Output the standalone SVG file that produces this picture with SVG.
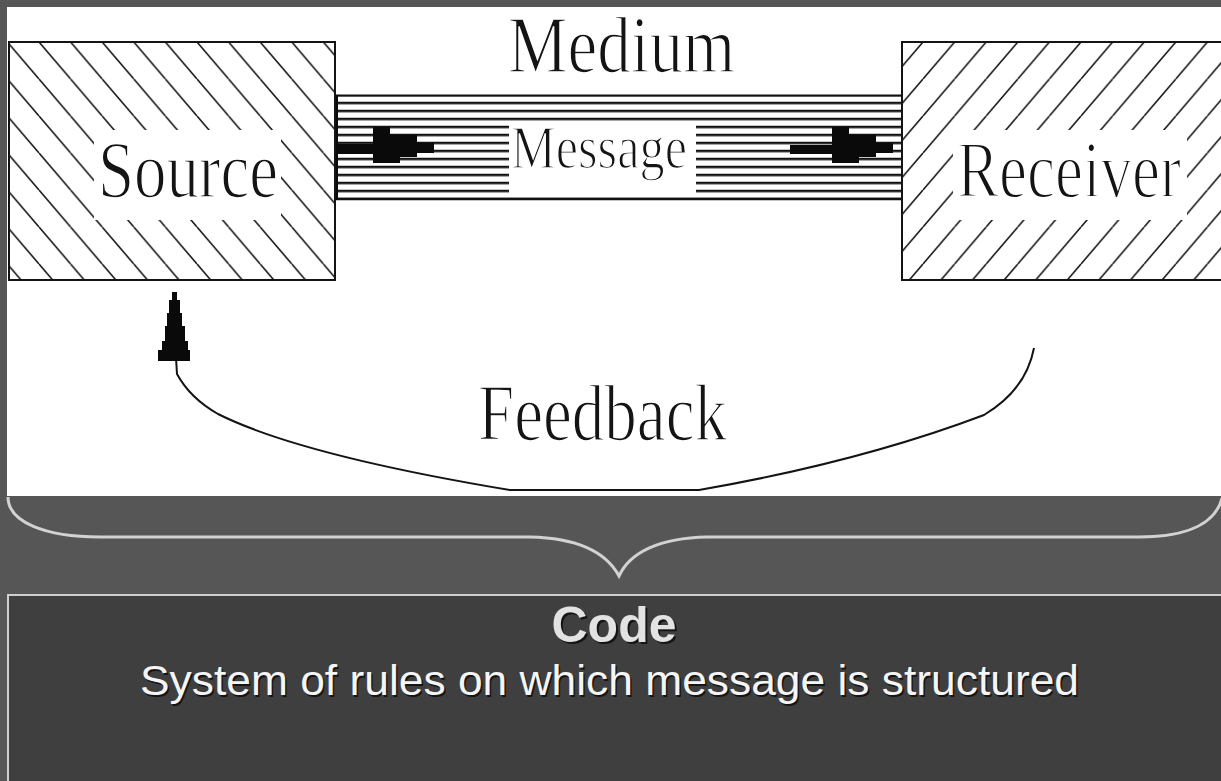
<svg xmlns="http://www.w3.org/2000/svg" width="1221" height="781" viewBox="0 0 1221 781">
  <style>
    .serif { font-family: "Liberation Serif", "Times New Roman", serif; fill: #141414; stroke: #ffffff; stroke-width: 1.6; }
    .box { fill: none; stroke: #141414; stroke-width: 2; }
    .gap { fill: #ffffff; }
    .curve { fill: none; stroke: #141414; stroke-width: 2; }
    .brace { fill: none; stroke: #d2d2d2; stroke-width: 3; }
    .ink { fill: #0a0a0a; }
    .sans { font-family: "Liberation Sans", Arial, sans-serif; text-anchor: middle; }
    .shadow { fill: #151515; }
  </style>
  <defs>
    <!-- back-slash hatching for the sender box -->
    <pattern id="hatchBack" patternUnits="userSpaceOnUse" x="7.4" y="42" width="31.6" height="37">
      <path d="M0,0L31.6,37M-31.6,0L0,37M31.6,0L63.2,37" stroke="#1c1c1c" stroke-width="1.6" fill="none"/>
    </pattern>
    <!-- forward-slash hatching for the receiver box -->
    <pattern id="hatchFwd" patternUnits="userSpaceOnUse" x="891.4" y="42" width="31.6" height="37">
      <path d="M31.6,0L0,37M0,0L-31.6,37M63.2,0L31.6,37" stroke="#1c1c1c" stroke-width="1.6" fill="none"/>
    </pattern>
    <!-- horizontal ruling inside the channel -->
    <pattern id="stripes" patternUnits="userSpaceOnUse" x="0" y="101.75" width="8" height="8">
      <rect width="8" height="2.5" fill="#121212"/>
    </pattern>
    <!-- stepped arrow head used on the channel -->
    <path id="pipeHead" d="M0,127H17V135H44V143H61V153H44V157H27V163H0Z"/>
  </defs>

  <!-- slide background -->
  <rect x="0" y="0" width="1221" height="781" fill="#565656"/>
  <!-- white drawing panel -->
  <rect x="7" y="7" width="1214" height="489" fill="#ffffff"/>

  <!-- Medium channel -->
  <g id="medium">
    <rect x="335" y="95" width="567" height="105" fill="#ffffff"/>
    <rect x="335" y="95" width="567" height="105" fill="url(#stripes)"/>
    <line x1="335" y1="95.5" x2="902" y2="95.5" stroke="#121212" stroke-width="2"/>
    <line x1="335" y1="199" x2="902" y2="199" stroke="#121212" stroke-width="2.5"/>
    <rect x="333" y="95" width="5" height="105" class="ink"/>
    <text class="serif" x="508" y="72" font-size="80" textLength="227" lengthAdjust="spacingAndGlyphs">Medium</text>
  </g>

  <!-- Message label on the channel -->
  <g id="message">
    <rect x="509" y="123" width="187" height="74" fill="#ffffff"/>
    <text class="serif" x="511" y="168" font-size="61" textLength="176" lengthAdjust="spacingAndGlyphs">Message</text>
  </g>

  <!-- Source node -->
  <g id="source">
    <rect x="9" y="42" width="326" height="238" fill="#ffffff"/>
    <rect x="9" y="42" width="326" height="238" fill="url(#hatchBack)"/>
    <rect x="94" y="130" width="187" height="90" class="gap"/>
    <rect x="9" y="42" width="326" height="238" class="box"/>
    <text class="serif" x="98" y="197" font-size="80" textLength="180" lengthAdjust="spacingAndGlyphs">Source</text>
  </g>

  <!-- Receiver node (its right side runs to the page edge) -->
  <g id="receiver">
    <rect x="902" y="42" width="320" height="238" fill="#ffffff"/>
    <rect x="902" y="42" width="320" height="238" fill="url(#hatchFwd)"/>
    <rect x="953" y="130" width="234" height="90" class="gap"/>
    <path d="M1222,42H902V280H1222" class="box"/>
    <!-- tall, narrow lettering: set at 64px and stretched vertically about the baseline -->
    <text class="serif" x="957" y="197" font-size="64" stroke-width="1.4" textLength="224" lengthAdjust="spacingAndGlyphs" transform="matrix(1 0 0 1.25 0 -49.25)">Receiver</text>
  </g>

  <!-- Feedback label -->
  <g id="feedback">
    <text class="serif" x="478" y="440" font-size="80" textLength="249" lengthAdjust="spacingAndGlyphs">Feedback</text>
  </g>

  <!-- connectors -->
  <g id="connectors">
    <!-- message flow arrows inside the channel -->
    <rect x="338" y="144" width="36" height="10" class="ink"/>
    <use href="#pipeHead" x="373" class="ink"/>
    <rect x="790" y="145" width="43" height="9" class="ink"/>
    <use href="#pipeHead" x="832" class="ink"/>

    <!-- feedback loop back to the source -->
    <path class="curve" d="M176,358 L177,374 Q190,398 218,414 Q300,455 510,490 L699,490 Q860,462 984,415 Q1026,390 1034,348"/>
    <polygon class="ink" points="172,292 177,292 177,300 180,300 180,313 182,313 182,326 185,326 185,341 188,341 188,350 190,350 190,361 158,361 158,350 162,350 162,341 165,341 165,326 167,326 167,313 169,313 169,300 172,300"/>

    <!-- brace grouping everything above under the code -->
    <path class="brace" d="M8,497 C8,522 45,537 100,537 L530,537 C575,538 605,550 619,576 C630,552 660,538 707,537 L1139,537 C1190,537 1216,522 1222,498"/>
  </g>

  <!-- Code node -->
  <g id="code">
    <rect x="8" y="595" width="1230" height="200" fill="#3f3f3f" stroke="#cfcfcf" stroke-width="2"/>
    <text class="sans shadow" x="616" y="644" font-size="50" font-weight="bold">Code</text>
    <text class="sans" x="614" y="642" font-size="50" font-weight="bold" fill="#e2e2e2">Code</text>
    <text class="sans shadow" x="611" y="696.5" font-size="42" textLength="939" lengthAdjust="spacingAndGlyphs">System of rules on which message is structured</text>
    <text class="sans" x="609.5" y="695" font-size="42" textLength="939" lengthAdjust="spacingAndGlyphs" fill="#f5f5f5">System of rules on which message is structured</text>
  </g>
</svg>
